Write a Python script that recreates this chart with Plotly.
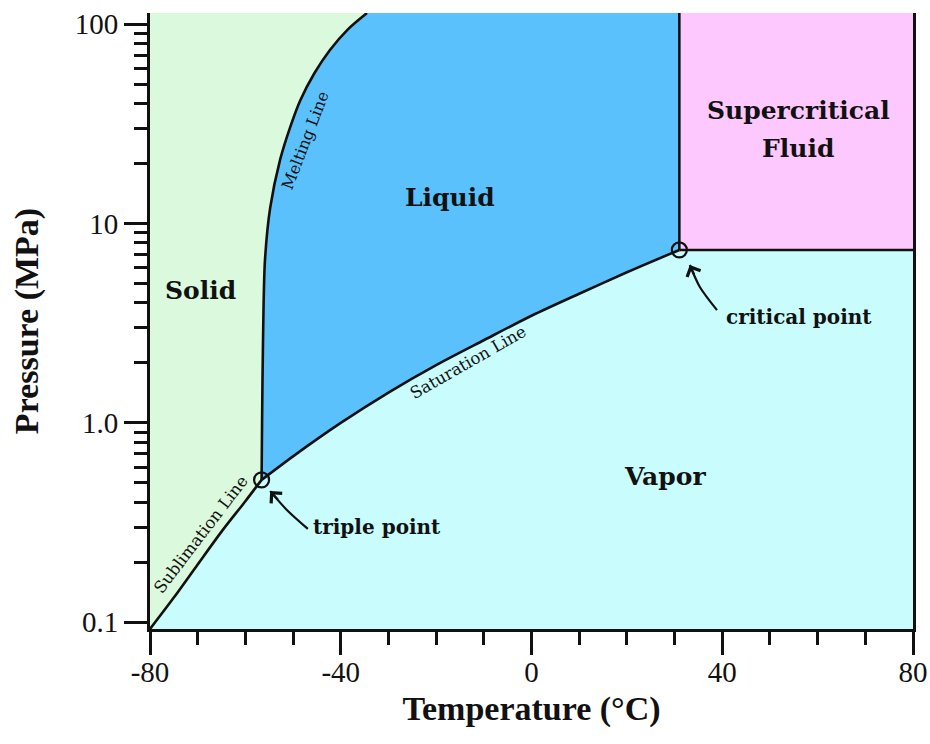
import math
import plotly.graph_objects as go

# Chart bounds (temperature in deg C, pressure in MPa)
T_MIN, T_MAX = -80, 80
P_MIN, P_MAX = 0.0925, 114.0

# Characteristic points of CO2
triple_T, triple_P = -56.6, 0.518
critical_T, critical_P = 31.0, 7.38

# Phase boundaries
subl_T = [-80, -75, -70, -65, -60, -56.6]
subl_P = [0.0925, 0.133, 0.195, 0.285, 0.405, 0.518]

melt_T = [-56.6, -56.5, -56.3, -55.9, -54.8, -52.7, -50.6, -48.5, -45.5, -42.3, -38.5, -34.5]
melt_P = [0.518, 1.0, 2.6, 6.5, 12.0, 21.0, 30.5, 41.5, 57.0, 74.2, 94.4, 114.0]

sat_T = [-56.6, -50, -40, -30, -20, -10, 0, 10, 20, 31.0]
sat_P = [0.518, 0.68, 1.00, 1.42, 1.95, 2.60, 3.45, 4.45, 5.70, 7.38]

# Axis ticks
x_ticks = [-80, -40, 0, 40, 80]
x_ticktext = ["-80", "-40", "0", "40", "80"]
x_minor = [-70, -60, -50, -30, -20, -10, 10, 20, 30, 50, 60, 70]
y_ticks = [0.1, 1, 10, 100]
y_ticktext = ["0.1", "1.0", "10", "100"]
y_minor = [m * d for d in (0.1, 1, 10) for m in range(2, 10)]

SOLID = "#dbf9dc"
LIQUID = "#5bc1fc"
SUPER = "#fdc8fd"
VAPOR = "#c9fcfc"
INK = "#111111"

SERIF = "Liberation Serif"
LABEL_FONT = "DejaVu Serif"

fig = go.Figure()


def region(xs, ys, color):
    fig.add_trace(go.Scatter(x=xs, y=ys, mode="lines", fill="toself",
                             fillcolor=color, line=dict(width=0),
                             hoverinfo="skip", showlegend=False))


def boundary(xs, ys, width=2.6, shape="linear"):
    fig.add_trace(go.Scatter(x=xs, y=ys, mode="lines",
                             line=dict(color=INK, width=width, shape=shape,
                                       smoothing=0.8),
                             hoverinfo="skip", showlegend=False))


# Phase regions
region(subl_T + sat_T[1:] + [T_MAX, T_MAX],
       subl_P + sat_P[1:] + [critical_P, P_MIN], VAPOR)
region(subl_T + melt_T[1:] + [T_MIN],
       subl_P + melt_P[1:] + [P_MAX], SOLID)
region(melt_T + [critical_T] + sat_T[::-1],
       melt_P + [P_MAX] + sat_P[::-1], LIQUID)
region([critical_T, T_MAX, T_MAX, critical_T],
       [critical_P, critical_P, P_MAX, P_MAX], SUPER)

# Phase boundary lines
boundary(subl_T, subl_P, shape="spline")
boundary(melt_T, melt_P, shape="spline")
boundary(sat_T, sat_P, shape="spline")
boundary([critical_T, critical_T], [critical_P, P_MAX])
boundary([critical_T, T_MAX], [critical_P, critical_P])

# Curved pointers towards the triple and critical points
triple_arrow_T = [-46.9, -51.3, -54.8]
triple_arrow_P = [0.294, 0.366, 0.455]
critical_arrow_T = [38.9, 35.3, 33.2]
critical_arrow_P = [3.68, 4.81, 6.20]
boundary(triple_arrow_T, triple_arrow_P, width=2.2, shape="spline")
boundary(critical_arrow_T, critical_arrow_P, width=2.2, shape="spline")

# Triple and critical point markers
fig.add_trace(go.Scatter(x=[triple_T, critical_T], y=[triple_P, critical_P],
                         mode="markers",
                         marker=dict(symbol="circle-open", size=15,
                                     color=INK, line=dict(width=2.2)),
                         hoverinfo="skip", showlegend=False))

annotations = []


def label(text, T, P, size, bold=True, angle=0, family=LABEL_FONT):
    annotations.append(dict(
        x=T, y=math.log10(P), xref="x", yref="y", text=text,
        showarrow=False, textangle=angle, xanchor="center", yanchor="middle",
        font=dict(family=family, size=size, color=INK,
                  weight="bold" if bold else "normal")))


def arrowhead(T, P, ax, ay):
    annotations.append(dict(
        x=T, y=math.log10(P), xref="x", yref="y", text="",
        showarrow=True, arrowhead=4, arrowsize=1.3, arrowwidth=2.2,
        arrowcolor=INK, ax=ax, ay=ay))


label("Solid", -69.5, 10 ** 0.666, 25)
label("Liquid", -17.1, 10 ** 1.133, 25)
label("Vapor", 28.0, 10 ** -0.271, 25)
label("Supercritical", 55.9, 10 ** 1.569, 25)
label("Fluid", 55.9, 10 ** 1.378, 25)
label("triple point", -32.4, 10 ** -0.522, 20)
label("critical point", 56.0, 10 ** 0.531, 20)

label("Melting Line", -47.5, 10 ** 1.419, 16, bold=False, angle=-69)
label("Sublimation Line", -69.3, 10 ** -0.562, 16.5, bold=False, angle=-52.6)
label("Saturation Line", -13.3, 10 ** 0.303, 16.5, bold=False, angle=-29.8)

arrowhead(triple_arrow_T[-1], triple_arrow_P[-1], 9, 10)
arrowhead(critical_arrow_T[-1], critical_arrow_P[-1], 5, 11)

tick_font = dict(family=SERIF, size=29, color=INK)
title_font = dict(family=SERIF, size=34, color=INK, weight="bold")

fig.update_layout(
    width=930, height=744,
    margin=dict(l=150, r=17, t=13, b=115),
    paper_bgcolor="white", plot_bgcolor="white",
    showlegend=False,
    annotations=annotations,
    xaxis=dict(
        range=[T_MIN, T_MAX], tickvals=x_ticks, ticktext=x_ticktext,
        ticks="outside", automargin=False, ticklabelstandoff=-8,
        ticklen=23, tickwidth=2.5, tickcolor=INK, tickfont=tick_font,
        minor=dict(tickvals=x_minor, ticks="outside", ticklen=13,
                   tickwidth=2.5, tickcolor=INK, showgrid=False),
        showline=True, linewidth=3, linecolor=INK,
        showgrid=False, zeroline=False,
        title=dict(text="Temperature (°C)", font=title_font, standoff=10),
    ),
    yaxis=dict(
        type="log", range=[math.log10(P_MIN), math.log10(P_MAX)],
        tickvals=y_ticks, ticktext=y_ticktext, ticks="outside",
        automargin=False,
        ticklen=23, tickwidth=2.5, tickcolor=INK, tickfont=tick_font,
        minor=dict(tickvals=y_minor, ticks="outside", ticklen=13,
                   tickwidth=2.5, tickcolor=INK, showgrid=False),
        showline=True, linewidth=3, linecolor=INK, mirror=True,
        showgrid=False, zeroline=False,
        title=dict(text="Pressure (MPa)", font=title_font, standoff=26),
    ),
)

fig.write_html("out.html")
